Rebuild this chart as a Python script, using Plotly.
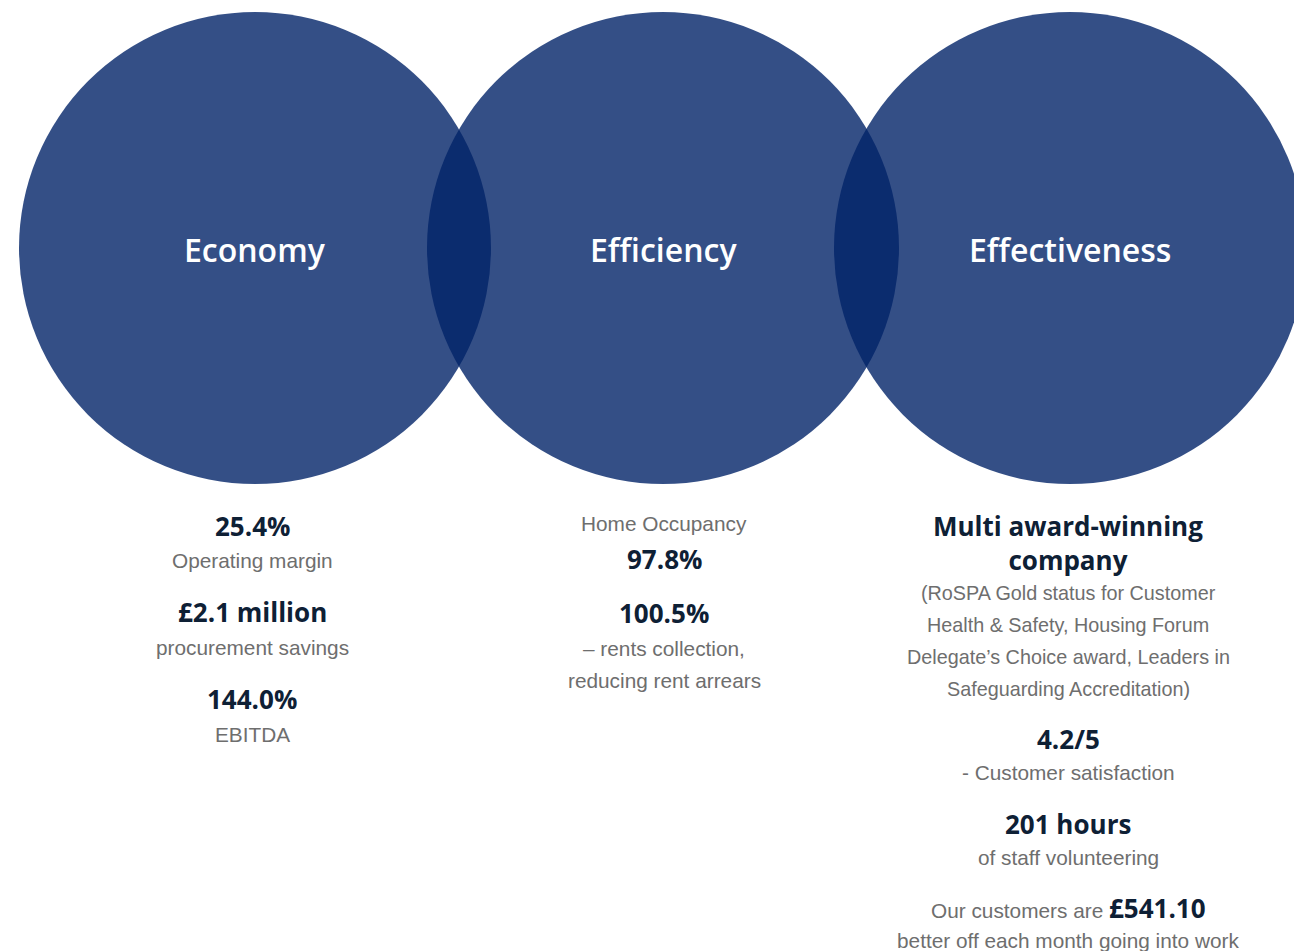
import plotly.graph_objects as go

# Three pillars and their headline figures
pillars = ["Economy", "Efficiency", "Effectiveness"]

economy_lines = [
    ("25.4%", "bold"),
    ("Operating margin", "light"),
    ("£2.1 million", "bold"),
    ("procurement savings", "light"),
    ("144.0%", "bold"),
    ("EBITDA", "light"),
]

efficiency_lines = [
    ("Home Occupancy", "light"),
    ("97.8%", "bold"),
    ("100.5%", "bold"),
    ("– rents collection,", "light"),
    ("reducing rent arrears", "light"),
]

effectiveness_lines = [
    ("Multi award-winning<br>company", "bold"),
    ("(RoSPA Gold status for Customer", "note"),
    ("Health & Safety, Housing Forum", "note"),
    ("Delegate’s Choice award, Leaders in", "note"),
    ("Safeguarding Accreditation)", "note"),
    ("4.2/5", "bold"),
    ("- Customer satisfaction", "light"),
    ("201 hours", "bold"),
    ("of staff volunteering", "light"),
    ("Our customers are |£541.10", "mixed"),
    ("better off each month going into work", "light"),
]

# Layout geometry (pixels on a 1294 x 951 canvas)
W, H = 1294, 951
circle_cx = [255, 663, 1070]
circle_cy = 248
radius = 236
text_x = [252, 664, 1068]
economy_y = [526, 560, 612, 647, 699, 734]
efficiency_y = [523, 559, 613, 648, 680]
effectiveness_y = [543, 593, 625, 657, 689, 739, 772, 824, 857, 908, 940]

NAVY_FILL = "rgba(1,35,104,0.80)"
DARK_TEXT = "#0e2035"
GREY_TEXT = "#6e6e6e"
BOLD_FONT = "Open Sans"
LIGHT_FONT = "Liberation Sans"
TITLE_SIZE = 32
BOLD_SIZE = 26
LIGHT_SIZE = 20.8
NOTE_SIZE = 19.8

fig = go.Figure()
fig.add_trace(go.Scatter(x=[0, W], y=[0, H], mode="markers",
                         marker=dict(opacity=0), hoverinfo="skip", showlegend=False))

for cx in circle_cx:
    fig.add_shape(type="circle", xref="x", yref="y",
                  x0=cx - radius, x1=cx + radius,
                  y0=circle_cy - radius, y1=circle_cy + radius,
                  fillcolor=NAVY_FILL, line=dict(width=0), layer="below")

for name, cx in zip(pillars, circle_cx):
    fig.add_annotation(x=cx, y=circle_cy + 1, text=name, showarrow=False,
                       xanchor="center", yanchor="middle",
                       font=dict(family=BOLD_FONT, size=TITLE_SIZE, color="white", weight=600))


def add_column(lines, ys, x):
    for (txt, kind), y in zip(lines, ys):
        if kind == "bold":
            font = dict(family=BOLD_FONT, size=BOLD_SIZE, color=DARK_TEXT, weight=700)
            label = txt
        elif kind == "light":
            font = dict(family=LIGHT_FONT, size=LIGHT_SIZE, color=GREY_TEXT)
            label = txt
        elif kind == "note":
            font = dict(family=LIGHT_FONT, size=NOTE_SIZE, color=GREY_TEXT)
            label = txt
        else:
            plain, strong = txt.split("|")
            font = dict(family=LIGHT_FONT, size=LIGHT_SIZE, color=GREY_TEXT)
            label = (plain + "<span style='font-family:" + BOLD_FONT +
                     ";font-size:" + str(BOLD_SIZE) + "px;font-weight:700;fill:" +
                     DARK_TEXT + ";color:" + DARK_TEXT + "'>" + strong + "</span>")
        fig.add_annotation(x=x, y=y, text=label, showarrow=False,
                           xanchor="center", yanchor="middle", font=font,
                           borderpad=0)


add_column(economy_lines, economy_y, text_x[0])
add_column(efficiency_lines, efficiency_y, text_x[1])
add_column(effectiveness_lines, effectiveness_y, text_x[2])

fig.update_xaxes(range=[0, W], visible=False, fixedrange=True)
fig.update_yaxes(range=[H, 0], visible=False, fixedrange=True)
fig.update_layout(width=W, height=H, margin=dict(l=0, r=0, t=0, b=0),
                  plot_bgcolor="white", paper_bgcolor="white", showlegend=False)

fig.write_html("out.html", config={"displayModeBar": False})
